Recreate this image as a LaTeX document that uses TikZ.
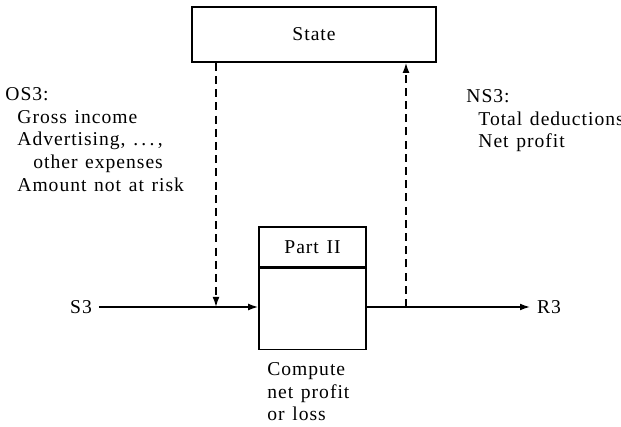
\documentclass[tikz,border=0pt]{standalone}
\usepackage{fontspec}
\setmainfont{Liberation Serif}[LetterSpace=5, WordSpace=1.3]
\usepackage{tikz}
\usetikzlibrary{arrows.meta,positioning,calc}

\tikzset{
  flow/.style={-{Latex[length=5pt,width=3.4pt]}, line width=0.7pt},
  dataflow/.style={flow, dash pattern=on 4pt off 2.6pt},
  procbox/.style={draw, line width=0.8pt, rectangle, inner sep=0pt},
  lbl/.style={align=left, inner sep=0pt}
}

\begin{document}
\begin{tikzpicture}[x=0.5pt, y=-0.5pt, font=\fontsize{9.8}{11.4}\selectfont]
\useasboundingbox (0,0) rectangle (621,427);

% Data store at the top
\node[procbox, minimum width=122pt, minimum height=27.5pt] (state) at (314,34.5) {State};

% Process box with its header
\node[procbox, minimum width=53.5pt, minimum height=20pt] (parthead) at (312.5,247) {Part II};
\node[procbox, minimum width=53.5pt, minimum height=40.5pt, anchor=north] (partbody) at (parthead.south) {};

% Input and output
\node (s3) at (81,307) {S3};
\node (r3) at (549,307) {R3};
\draw[flow] (s3.east) -- (s3.east -| partbody.west);
\draw[flow] (r3.west -| partbody.east) -- (r3.west);

% Dashed links to and from the store
\coordinate (osin) at (216,307);
\coordinate (nsout) at (406,307);
\draw[dataflow] (state.south -| osin) -- (osin);
\draw[dataflow] (nsout) -- (state.south -| nsout);

% Labels
\node[lbl, anchor=north west] (os3) at (5,87) {OS3:\\
  \hspace*{6pt}Gross income\\
  \hspace*{6pt}Advertising, .\,.\,.\,,\\
  \hspace*{14pt}other expenses\\
  \hspace*{6pt}Amount not at risk};
\node[lbl, anchor=north west] (ns3) at (466,89) {NS3:\\
  \hspace*{6pt}Total deductions\\
  \hspace*{6pt}Net profit};
\node[lbl, anchor=north west] (compute) at (267,362) {Compute\\net profit\\or loss};
\end{tikzpicture}
\end{document}
